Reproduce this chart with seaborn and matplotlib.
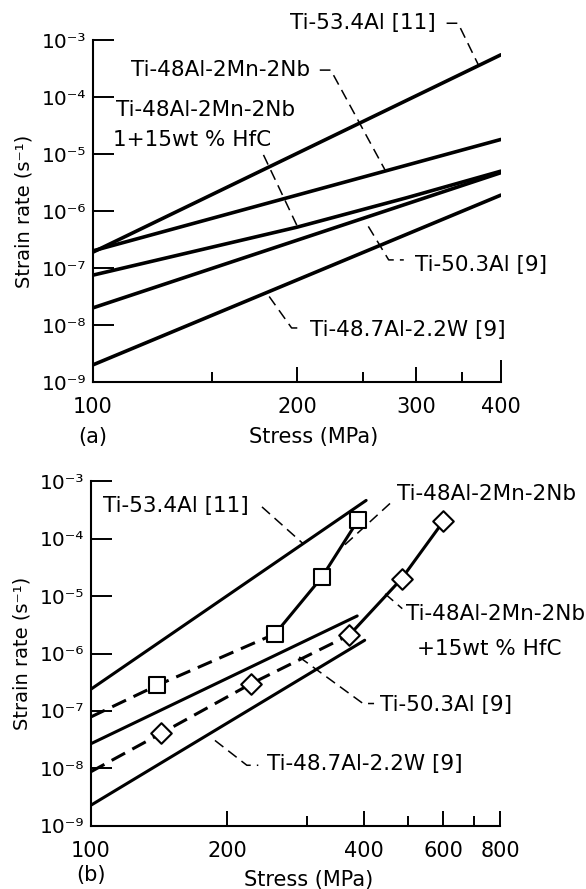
import matplotlib
matplotlib.use("Agg")
import matplotlib.pyplot as plt
from matplotlib.ticker import FixedLocator, FixedFormatter, NullLocator, NullFormatter
import seaborn as sns

# --- valeurs : (a) ---
a_ti534_stress = [100, 400]
a_ti534_rate = [1.9e-7, 5.5e-4]
a_mnnb_stress = [100, 400]
a_mnnb_rate = [2.0e-7, 1.8e-5]
a_hfc_stress = [100, 200, 290, 400]
a_hfc_rate = [7.5e-8, 5.2e-7, 1.7e-6, 5.0e-6]
a_ti503_stress = [100, 400]
a_ti503_rate = [2.0e-8, 4.7e-6]
a_w_stress = [100, 400]
a_w_rate = [2.0e-9, 1.9e-6]

# --- valeurs : (b) ---
b_ti534_stress = [100, 405]
b_ti534_rate = [2.4e-7, 4.6e-4]
b_ti503_stress = [100, 387]
b_ti503_rate = [2.7e-8, 4.5e-6]
b_w_stress = [100, 402]
b_w_rate = [2.3e-9, 1.7e-6]
# premier point = départ de l'extrapolation en tirets, les autres = essais
b_mnnb_stress = [100, 140, 255, 323, 389]
b_mnnb_rate = [7.9e-8, 2.8e-7, 2.2e-6, 2.1e-5, 2.1e-4]
b_hfc_stress = [100, 143, 226, 372, 485, 600]
b_hfc_rate = [8.8e-9, 4.1e-8, 3.0e-7, 2.1e-6, 2.0e-5, 2.0e-4]

y_ticks = [1e-9, 1e-8, 1e-7, 1e-6, 1e-5, 1e-4, 1e-3]
y_tick_labels = ["10⁻⁹", "10⁻⁸", "10⁻⁷", "10⁻⁶", "10⁻⁵", "10⁻⁴", "10⁻³"]
a_xticks = [100, 200, 300, 400]
a_xminor = [150, 250, 350]
b_xticks = [100, 200, 400, 600, 800]
b_xminor = [300, 500, 700]

sns.set_style("ticks")
plt.rcParams['font.family'] = ['DejaVu Sans']
plt.rcParams.update({'text.color': 'k', 'axes.labelcolor': 'k',
                     'xtick.color': 'k', 'ytick.color': 'k'})

LW_A = 2.6
LW_B = 2.2
DASH = (0, (5, 2.7))
LEADER = (0, (7, 4))


def leader(ax, xs, ys):
    ax.plot(xs, ys, transform=ax.transAxes, color='k', lw=1.1,
            linestyle=LEADER, clip_on=False)


def note(ax, x, y, s):
    ax.text(x, y, s, transform=ax.transAxes, ha='left', va='center', fontsize=15.5)


def set_axes(ax, xlim, xticks, xminor, longticks):
    ax.set_xscale('log')
    ax.set_yscale('log')
    ax.set_xlim(*xlim)
    ax.set_ylim(1e-9, 1e-3)
    ax.xaxis.set_major_locator(FixedLocator(xticks))
    ax.xaxis.set_major_formatter(FixedFormatter([str(t) for t in xticks]))
    ax.xaxis.set_minor_locator(FixedLocator(xminor))
    ax.xaxis.set_minor_formatter(NullFormatter())
    ax.yaxis.set_major_locator(FixedLocator(y_ticks))
    ax.yaxis.set_major_formatter(FixedFormatter(y_tick_labels))
    ax.yaxis.set_minor_locator(NullLocator())
    ax.tick_params(axis='x', which='major', direction='in', length=11, width=1.4,
                   pad=11, labelsize=15, colors='k')
    ax.tick_params(axis='x', which='minor', direction='in', length=7.5, width=1.4,
                   colors='k')
    ax.tick_params(axis='y', which='major', direction='in', length=15, width=1.4,
                   pad=5, labelsize=14.5, colors='k')
    for t in ax.xaxis.get_major_ticks():
        if t.get_loc() in longticks:
            t.tick1line.set_markersize(16)
    sns.despine(ax=ax)
    for side in ['left', 'bottom']:
        ax.spines[side].set_linewidth(1.5)
        ax.spines[side].set_color('k')
    ax.set_ylabel("Strain rate (s⁻¹)", fontsize=14, color='k')
    ax.yaxis.set_label_coords(-0.145, 0.5)


fig = plt.figure(figsize=(5.86, 8.89), dpi=100)
ax_a = fig.add_axes([0.1587, 0.5703, 0.696, 0.3847])
ax_b = fig.add_axes([0.1553, 0.0709, 0.698, 0.388])

# ---------------- (a) ----------------
ax = ax_a
for xs, ys in [(a_ti534_stress, a_ti534_rate), (a_mnnb_stress, a_mnnb_rate),
               (a_hfc_stress, a_hfc_rate), (a_ti503_stress, a_ti503_rate),
               (a_w_stress, a_w_rate)]:
    sns.lineplot(x=xs, y=ys, ax=ax, color='k', lw=LW_A, solid_capstyle='round')
set_axes(ax, (100, 400), a_xticks, a_xminor, [200])

note(ax, 0.483, 1.049, "Ti-53.4Al [11]")
leader(ax, [0.867, 0.895, 0.945], [1.049, 1.049, 0.927])
note(ax, 0.093, 0.912, "Ti-48Al-2Mn-2Nb")
leader(ax, [0.556, 0.583, 0.716], [0.912, 0.912, 0.620])
note(ax, 0.057, 0.796, "Ti-48Al-2Mn-2Nb")
note(ax, 0.048, 0.708, "1+15wt % HfC")
leader(ax, [0.418, 0.501], [0.664, 0.455])
note(ax, 0.789, 0.343, "Ti-50.3Al [9]")
leader(ax, [0.675, 0.725, 0.762], [0.455, 0.357, 0.357])
note(ax, 0.533, 0.153, "Ti-48.7Al-2.2W [9]")
leader(ax, [0.432, 0.487, 0.510], [0.250, 0.158, 0.158])

ax.set_xlabel("Stress (MPa)", fontsize=15, color='k')
ax.xaxis.set_label_coords(0.542, -0.161)
ax.xaxis.label.set_va('center')
ax.text(0.0, -0.161, "(a)", transform=ax.transAxes, ha='center', va='center', fontsize=15)

# ---------------- (b) ----------------
ax = ax_b
for xs, ys in [(b_ti534_stress, b_ti534_rate), (b_ti503_stress, b_ti503_rate),
               (b_w_stress, b_w_rate)]:
    sns.lineplot(x=xs, y=ys, ax=ax, color='k', lw=LW_B)

# Ti-48Al-2Mn-2Nb : extrapolation en tirets puis essais en trait plein
sns.lineplot(x=b_mnnb_stress[:3], y=b_mnnb_rate[:3], ax=ax, color='k', lw=LW_B, linestyle=DASH)
sns.lineplot(x=b_mnnb_stress[2:], y=b_mnnb_rate[2:], ax=ax, color='k', lw=LW_B)
sns.scatterplot(x=b_mnnb_stress[1:], y=b_mnnb_rate[1:], ax=ax, marker='s', s=120,
                facecolor='white', edgecolor='k', linewidth=1.5, zorder=4)

# + 15wt% HfC
sns.lineplot(x=b_hfc_stress[:4], y=b_hfc_rate[:4], ax=ax, color='k', lw=LW_B, linestyle=DASH)
sns.lineplot(x=b_hfc_stress[3:], y=b_hfc_rate[3:], ax=ax, color='k', lw=LW_B)
sns.scatterplot(x=b_hfc_stress[1:], y=b_hfc_rate[1:], ax=ax, marker='D', s=110,
                facecolor='white', edgecolor='k', linewidth=1.5, zorder=4)

set_axes(ax, (100, 800), b_xticks, b_xminor, [])

note(ax, 0.029, 0.929, "Ti-53.4Al [11]")
leader(ax, [0.418, 0.518], [0.925, 0.819])
note(ax, 0.747, 0.963, "Ti-48Al-2Mn-2Nb")
leader(ax, [0.731, 0.614], [0.935, 0.808])
note(ax, 0.770, 0.615, "Ti-48Al-2Mn-2Nb")
note(ax, 0.797, 0.514, "+15wt % HfC")
leader(ax, [0.719, 0.761], [0.673, 0.630])
note(ax, 0.706, 0.350, "Ti-50.3Al [9]")
leader(ax, [0.509, 0.665, 0.692], [0.490, 0.355, 0.355])
note(ax, 0.431, 0.181, "Ti-48.7Al-2.2W [9]")
leader(ax, [0.303, 0.381, 0.409], [0.248, 0.176, 0.176])

ax.set_xlabel("Stress (MPa)", fontsize=15, color='k')
ax.xaxis.set_label_coords(0.531, -0.157)
ax.xaxis.label.set_va('center')
ax.text(0.0, -0.143, "(b)", transform=ax.transAxes, ha='center', va='center', fontsize=15)

fig.savefig("out.png", dpi=100)
